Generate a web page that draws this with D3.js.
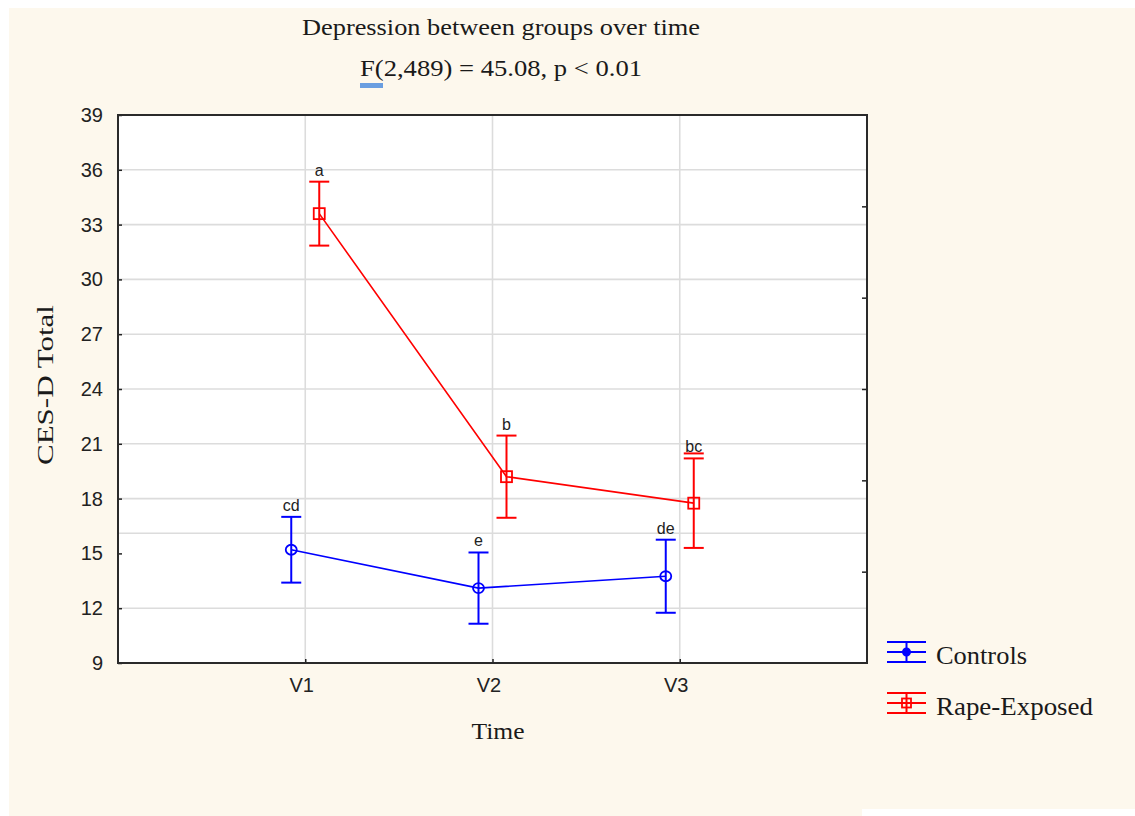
<!DOCTYPE html>
<html>
<head>
<meta charset="utf-8">
<script src="https://cdn.jsdelivr.net/npm/d3@7/dist/d3.min.js"></script>
<style>
  html, body { margin: 0; padding: 0; background: #ffffff; }
  svg { display: block; }
</style>
</head>
<body>
<svg id="chart" width="1135" height="816"></svg>
<script>
// Time points and group series (CES-D means with error bar half-widths)
const timePoints = ["V1", "V2", "V3"];
const groups = ["Controls", "Rape-Exposed"];
const controlsMean = [15.2, 13.1, 13.75];
const controlsErr = [1.8, 1.95, 2.0];
const exposedMean = [33.6, 19.2, 17.75];
const exposedErr = [1.75, 2.25, 2.45];
const controlsLetters = ["cd", "e", "de"];
const exposedLetters = ["a", "b", "bc"];
const yTicks = [9, 12, 15, 18, 21, 24, 27, 30, 33, 36, 39];
const yGrid = [12, 16.1, 18, 21, 24, 27, 30, 33, 36];
const rightTicks = [1, 2, 3, 4, 5];

const svg = d3.select("#chart");
const W = 1135, H = 816;

// Cream panel behind everything, with a white notch at the lower right
svg.append("rect").attr("x", 9).attr("y", 8).attr("width", W - 9).attr("height", H - 8).attr("fill", "#fdf8ed");
svg.append("rect").attr("x", 862).attr("y", 809).attr("width", W - 862).attr("height", 7).attr("fill", "#ffffff");

const plot = { left: 118, top: 115, right: 867, bottom: 663 };

const x = d3.scalePoint().domain(timePoints).range([plot.left, plot.right]).padding(1);
const y = d3.scaleLinear().domain([9, 39]).range([plot.bottom, plot.top]);
const yRight = d3.scaleLinear().domain([0, 6]).range([plot.bottom, plot.top]);

const sans = "Arial, 'Liberation Sans', sans-serif";
const serif = "'Liberation Serif', 'Times New Roman', 'DejaVu Serif', serif";

// Plot background
svg.append("rect")
  .attr("x", plot.left).attr("y", plot.top)
  .attr("width", plot.right - plot.left).attr("height", plot.bottom - plot.top)
  .attr("fill", "#ffffff");

// Gridlines
const grid = svg.append("g").attr("stroke", "#dcdcdc").attr("stroke-width", 1.6);
grid.selectAll("line.h").data(yGrid).join("line")
  .attr("x1", plot.left).attr("x2", plot.right)
  .attr("y1", d => y(d)).attr("y2", d => y(d));
grid.selectAll("line.v").data(timePoints).join("line")
  .attr("x1", d => x(d)).attr("x2", d => x(d))
  .attr("y1", plot.top).attr("y2", plot.bottom);

// Left axis (inner ticks)
const yAxis = d3.axisLeft(y).tickValues(yTicks).tickSizeInner(-4).tickSizeOuter(0).tickPadding(15);
const gy = svg.append("g").attr("transform", `translate(${plot.left},0)`).call(yAxis);
gy.select(".domain").remove();
gy.selectAll(".tick line").attr("stroke", "#222").attr("stroke-width", 1.5);
gy.selectAll(".tick text").attr("font-family", sans)
  .attr("font-size", 20).attr("fill", "#222");

// Right axis ticks only
const yAxisR = d3.axisRight(yRight).tickValues(rightTicks).tickSizeInner(-5).tickSizeOuter(0).tickFormat("");
const gyr = svg.append("g").attr("transform", `translate(${plot.right},0)`).call(yAxisR);
gyr.select(".domain").remove();
gyr.selectAll(".tick line").attr("stroke", "#222").attr("stroke-width", 1.5);

// Bottom axis
const xAxis = d3.axisBottom(x).tickSizeInner(-4).tickSizeOuter(0).tickPadding(15);
const gx = svg.append("g").attr("transform", `translate(0,${plot.bottom})`).call(xAxis);
gx.select(".domain").remove();
gx.selectAll(".tick line").attr("stroke", "#222").attr("stroke-width", 1.5);
gx.selectAll(".tick text").attr("font-family", sans)
  .attr("font-size", 20).attr("fill", "#222").attr("dx", -4);

// Frame
svg.append("rect")
  .attr("x", plot.left).attr("y", plot.top)
  .attr("width", plot.right - plot.left).attr("height", plot.bottom - plot.top)
  .attr("fill", "none").attr("stroke", "#2a2a2a").attr("stroke-width", 2);

// Series
const series = [
  { name: groups[0], mean: controlsMean, err: controlsErr, letters: controlsLetters, color: "#0000ff", dx: -14, marker: "circle" },
  { name: groups[1], mean: exposedMean, err: exposedErr, letters: exposedLetters, color: "#ff0000", dx: 14, marker: "square" }
];

series.forEach(s => {
  const pts = timePoints.map((t, i) => ({ t, m: s.mean[i], e: s.err[i], l: s.letters[i], px: x(t) + s.dx }));
  const g = svg.append("g");

  g.append("path").datum(pts)
    .attr("fill", "none").attr("stroke", s.color).attr("stroke-width", 1.6)
    .attr("d", d3.line().x(d => d.px).y(d => y(d.m)));

  const eb = g.selectAll("g.eb").data(pts).join("g").attr("stroke", s.color).attr("stroke-width", 2);
  eb.append("line").attr("x1", d => d.px).attr("x2", d => d.px)
    .attr("y1", d => y(d.m + d.e)).attr("y2", d => y(d.m - d.e));
  eb.append("line").attr("x1", d => d.px - 10).attr("x2", d => d.px + 10)
    .attr("y1", d => y(d.m + d.e)).attr("y2", d => y(d.m + d.e));
  eb.append("line").attr("x1", d => d.px - 10).attr("x2", d => d.px + 10)
    .attr("y1", d => y(d.m - d.e)).attr("y2", d => y(d.m - d.e));

  if (s.marker === "circle") {
    g.selectAll("ellipse").data(pts).join("ellipse")
      .attr("cx", d => d.px).attr("cy", d => y(d.m)).attr("rx", 5.5).attr("ry", 5)
      .attr("fill", "none").attr("stroke", s.color).attr("stroke-width", 1.8);
  } else {
    g.selectAll("rect").data(pts).join("rect")
      .attr("x", d => d.px - 5.5).attr("y", d => y(d.m) - 5.5).attr("width", 11).attr("height", 11)
      .attr("fill", "none").attr("stroke", s.color).attr("stroke-width", 1.8);
  }

  g.selectAll("text").data(pts).join("text")
    .attr("x", d => d.px).attr("y", d => y(d.m + d.e) - 6)
    .attr("text-anchor", "middle")
    .attr("font-family", sans)
    .attr("font-size", 16).attr("fill", "#222")
    .text(d => d.l);
});

// Red underline beneath the "bc" letter label
{
  const i = 2, s = series[1];
  const px = x(timePoints[i]) + s.dx;
  const yy = y(s.mean[i] + s.err[i]) - 5;
  svg.append("line").attr("x1", px - 10).attr("x2", px + 10).attr("y1", yy).attr("y2", yy)
    .attr("stroke", s.color).attr("stroke-width", 2);
}

// Titles
svg.append("text").attr("x", 501).attr("y", 35).attr("text-anchor", "middle")
  .attr("font-family", serif).attr("font-size", 24).attr("fill", "#1a1a1a")
  .attr("textLength", 398).attr("lengthAdjust", "spacingAndGlyphs")
  .text("Depression between groups over time");

svg.append("rect").attr("x", 360).attr("y", 83).attr("width", 23).attr("height", 5).attr("fill", "#6a9ee0");
svg.append("text").attr("x", 501).attr("y", 76).attr("text-anchor", "middle")
  .attr("font-family", serif).attr("font-size", 24).attr("fill", "#1a1a1a")
  .attr("textLength", 282).attr("lengthAdjust", "spacingAndGlyphs")
  .text("F(2,489) = 45.08, p < 0.01");

// Axis titles
svg.append("text").attr("transform", "translate(53,385) rotate(-90)").attr("text-anchor", "middle")
  .attr("font-family", serif).attr("font-size", 24).attr("fill", "#1a1a1a")
  .attr("textLength", 160).attr("lengthAdjust", "spacingAndGlyphs")
  .text("CES-D Total");
svg.append("text").attr("x", 498).attr("y", 739).attr("text-anchor", "middle")
  .attr("font-family", serif).attr("font-size", 24).attr("fill", "#1a1a1a")
  .attr("textLength", 53).attr("lengthAdjust", "spacingAndGlyphs")
  .text("Time");

// Legend
const legendWidths = [91, 157];
const legend = svg.append("g").attr("transform", "translate(887,652)");
series.forEach((s, i) => {
  const li = legend.append("g").attr("transform", `translate(0,${i * 51})`).attr("stroke", s.color).attr("stroke-width", 2);
  [-10, 0, 10].forEach(dy => li.append("line").attr("x1", 0).attr("x2", 39).attr("y1", dy).attr("y2", dy));
  li.append("line").attr("x1", 19.5).attr("x2", 19.5).attr("y1", -10).attr("y2", 10);
  if (s.marker === "circle") {
    li.append("circle").attr("cx", 19.5).attr("cy", 0).attr("r", 3.5).attr("fill", s.color);
  } else {
    li.append("rect").attr("x", 15).attr("y", -4.5).attr("width", 9).attr("height", 9).attr("fill", "none").attr("stroke-width", 1.8);
  }
  legend.append("text").attr("x", 49).attr("y", i * 51 + 12)
    .attr("font-family", serif).attr("font-size", 25).attr("fill", "#1a1a1a")
    .attr("textLength", legendWidths[i]).attr("lengthAdjust", "spacingAndGlyphs")
    .text(s.name);
});
</script>
</body>
</html>
